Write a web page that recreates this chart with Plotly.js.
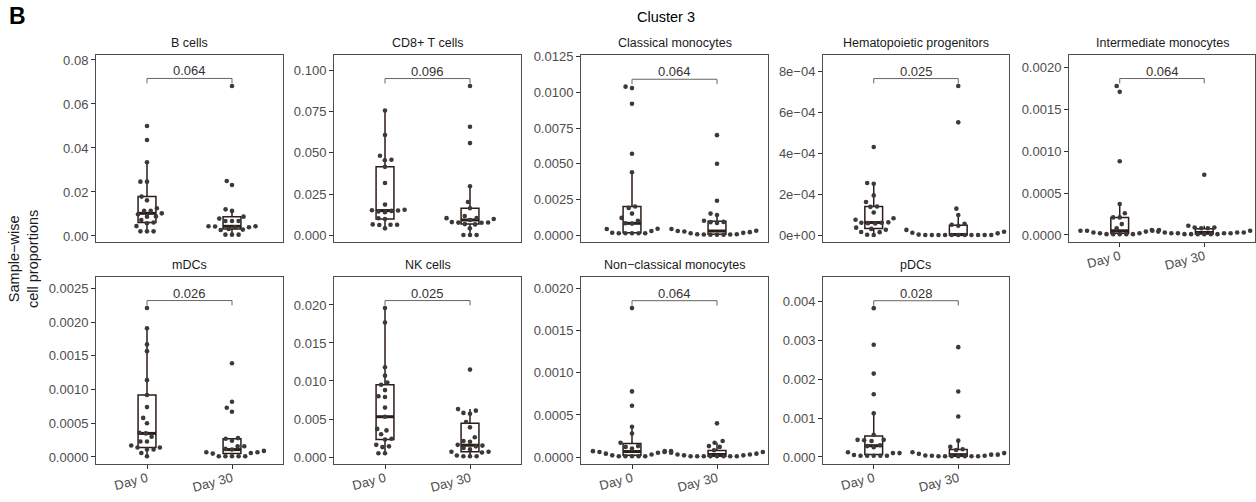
<!DOCTYPE html>
<html><head><meta charset="utf-8">
<script src="https://cdn.plot.ly/plotly-3.0.1.min.js"></script>
<style>html,body{margin:0;padding:0;background:#fff}#chart{width:1256px;height:502px}</style>
</head><body><div id="chart"></div>
<script>
// ---------------- data ----------------
const groups = ["Day 0", "Day 30"];
const panelTitles = ["B cells", "CD8+ T cells", "Classical monocytes", "Hematopoietic progenitors",
  "Intermediate monocytes", "mDCs", "NK cells", "Non\u2212classical monocytes", "pDCs"];
const pValues = ["0.064", "0.096", "0.064", "0.025", "0.064", "0.026", "0.025", "0.064", "0.028"];

const bCellsDay0 = [0.0500, 0.0436, 0.0335, 0.0247, 0.0247, 0.0179, 0.0162, 0.0126, 0.0115, 0.0115, 0.0103, 0.0099, 0.0089, 0.0088, 0.0073, 0.0061, 0.0058, 0.0045, 0.0021, 0.0021, 0.0021];
const bCellsDay30 = [0.0682, 0.0250, 0.0232, 0.0121, 0.0114, 0.0088, 0.0079, 0.0068, 0.0068, 0.0068, 0.0044, 0.0044, 0.0043, 0.0040, 0.0040, 0.0032, 0.0029, 0.0027, 0.0006, 0.0006, 0.0006];
const cd8Day0 = [0.0757, 0.0608, 0.0482, 0.0458, 0.0455, 0.0415, 0.0317, 0.0186, 0.0155, 0.0152, 0.0150, 0.0148, 0.0145, 0.0140, 0.0103, 0.0099, 0.0066, 0.0064, 0.0064, 0.0062, 0.0042];
const cd8Day30 = [0.0905, 0.0658, 0.0559, 0.0297, 0.0202, 0.0164, 0.0117, 0.0105, 0.0104, 0.0099, 0.0093, 0.0080, 0.0078, 0.0077, 0.0076, 0.0068, 0.0066, 0.0042, 0.0002, 0.0002, 0.0002];
const classicalDay0 = [0.0104, 0.0103, 0.0092, 0.0057, 0.0044, 0.0020, 0.0019, 0.0015, 0.0012, 0.0010, 0.00082, 0.0008, 0.00044, 0.00042, 0.00028, 0.00016, 0.00012, 0.00012, 0.00012, 0.00012, 0.00012];
const classicalDay30 = [0.0070, 0.0050, 0.0024, 0.0015, 0.0014, 0.0010, 0.00092, 0.00090, 0.00085, 0.00042, 0.00030, 0.00028, 0.00025, 0.00020, 0.00015, 0.00012, 0.00005, 0.00005, 0.00004, 0.00004, 0.00002, 0.00002, 0.00002];
const hspcDay0 = [4.31e-4, 2.55e-4, 2.51e-4, 1.94e-4, 1.62e-4, 1.40e-4, 1.38e-4, 1.10e-4, 0.82e-4, 0.75e-4, 0.62e-4, 0.60e-4, 0.60e-4, 0.58e-4, 0.56e-4, 0.36e-4, 0.30e-4, 0.26e-4, 0.15e-4, 0.14e-4, 0.01e-4, 0];
const hspcDay30 = [7.30e-4, 5.52e-4, 1.29e-4, 0.98e-4, 0.55e-4, 0.50e-4, 0.45e-4, 0.25e-4, 0.16e-4, 0.11e-4, 0.08e-4, 0.02e-4, 0, 0, 0, 0, 0, 0, 0, 0, 0, 0, 0];
const intermediateDay0 = [0.00178, 0.00171, 0.00088, 0.00037, 0.00026, 0.00021, 0.00021, 0.00013, 0.00008, 0.00006, 0.00005, 0.00005, 0.00005, 0.00004, 0.00003, 0.00002, 0.00002, 0.00001, 0.00001, 0.00001, 0.00001, 0.00001];
const intermediateDay30 = [0.00072, 0.00011, 0.00009, 0.00009, 0.00008, 0.00008, 0.00006, 0.00005, 0.00004, 0.00003, 0.00003, 0.00003, 0.00002, 0.00002, 0.00002, 0.00002, 0.00001, 0.00001, 0.00001, 0.00001, 0.00001, 0.00001];
const mdcDay0 = [0.00221, 0.00191, 0.00167, 0.00157, 0.00114, 0.00092, 0.00074, 0.00058, 0.00050, 0.00036, 0.00035, 0.00030, 0.00023, 0.00023, 0.00017, 0.00014, 0.00014, 0.00011, 0.00011, 0.00006, 0.00001];
const mdcDay30 = [0.00139, 0.00082, 0.00073, 0.00067, 0.00028, 0.00027, 0.00024, 0.00016, 0.00016, 0.00012, 0.00011, 0.00009, 0.00007, 0.00007, 0.00006, 0.00005, 0.00001, 0.00001, 0.00001, 0.00001, 0.00001];
const nkDay0 = [0.0196, 0.0177, 0.0118, 0.0107, 0.0098, 0.0095, 0.0088, 0.0080, 0.0079, 0.0065, 0.0053, 0.0037, 0.0035, 0.0030, 0.0024, 0.0023, 0.0016, 0.0014, 0.0013, 0.0005, 0.0005];
const nkDay30 = [0.0115, 0.0063, 0.0061, 0.0058, 0.0057, 0.0046, 0.0039, 0.0026, 0.0021, 0.0020, 0.0016, 0.0015, 0.0014, 0.0012, 0.0010, 0.0007, 0.0007, 0.0006, 0.0002, 0.0001, 0.0001, 0.0001];
const nonClassicalDay0 = [0.00177, 0.00078, 0.00061, 0.00036, 0.00028, 0.00017, 0.00013, 0.00012, 0.00010, 0.00007, 0.00007, 0.00006, 0.00006, 0.00005, 0.00004, 0.00003, 0.00002, 0.00001, 0.00001, 0.00001, 0.00001, 0.00001];
const nonClassicalDay30 = [0.00040, 0.00019, 0.00017, 0.00013, 0.00012, 0.00008, 0.00007, 0.00006, 0.00005, 0.00004, 0.00003, 0.00003, 0.00002, 0.00002, 0.00001, 0.00001, 0.00001, 0.00001, 0.00001, 0.00001, 0.00001, 0.00001];
const pdcDay0 = [0.00382, 0.00288, 0.00214, 0.00161, 0.00112, 0.00057, 0.00044, 0.00044, 0.00043, 0.00041, 0.00030, 0.00028, 0.00025, 0.00012, 0.00010, 0.00010, 0.00005, 0.00003, 0.00003, 0.00003, 0.00003, 0.00003];
const pdcDay30 = [0.00282, 0.00168, 0.00104, 0.00042, 0.00026, 0.00020, 0.00018, 0.00012, 0.00010, 0.00008, 0.00006, 0.00006, 0.00004, 0.00003, 0.00003, 0.00002, 0.00002, 0.00002, 0.00002, 0.00002, 0.00002, 0.00002];

// tick values and labels
const bCellsTicks = [0, 0.02, 0.04, 0.06, 0.08];
const bCellsTickText = ["0.00", "0.02", "0.04", "0.06", "0.08"];
const cd8Ticks = [0, 0.025, 0.05, 0.075, 0.1];
const cd8TickText = ["0.000", "0.025", "0.050", "0.075", "0.100"];
const classicalTicks = [0, 0.0025, 0.005, 0.0075, 0.01, 0.0125];
const classicalTickText = ["0.0000", "0.0025", "0.0050", "0.0075", "0.0100", "0.0125"];
const hspcTicks = [0, 2e-4, 4e-4, 6e-4, 8e-4];
const hspcTickText = ["0e+00", "2e\u221204", "4e\u221204", "6e\u221204", "8e\u221204"];
const intermediateTicks = [0, 0.0005, 0.001, 0.0015, 0.002];
const intermediateTickText = ["0.0000", "0.0005", "0.0010", "0.0015", "0.0020"];
const mdcTicks = [0, 0.0005, 0.001, 0.0015, 0.002, 0.0025];
const mdcTickText = ["0.0000", "0.0005", "0.0010", "0.0015", "0.0020", "0.0025"];
const nkTicks = [0, 0.005, 0.01, 0.015, 0.02];
const nkTickText = ["0.000", "0.005", "0.010", "0.015", "0.020"];
const nonClassicalTicks = [0, 0.0005, 0.001, 0.0015, 0.002];
const nonClassicalTickText = ["0.0000", "0.0005", "0.0010", "0.0015", "0.0020"];
const pdcTicks = [0, 0.001, 0.002, 0.003, 0.004];
const pdcTickText = ["0.000", "0.001", "0.002", "0.003", "0.004"];

// ---------------- layout constants ----------------
const W = 1256, H = 502;
const FONT = "Liberation Sans, Arial, Helvetica, sans-serif";
const colLeft = [96, 334, 581, 823, 1069];
const colWidth = [187, 187, 187, 186, 186];
const rowTop = [55, 277];
const panelH = 187;
const xRange = [0.4, 2.6];
const yRanges = [
  [-0.00273, 0.08227], [-0.00406, 0.1093], [-0.00049, 0.01262], [-3.43e-5, 8.82e-4], [-8.4e-5, 0.00215],
  [-1.04e-4, 0.00267], [-9.2e-4, 0.02368], [-8.3e-5, 0.00214], [-1.8e-4, 0.00462]
];
const panels = [
  {d0: bCellsDay0, d30: bCellsDay30, ticks: bCellsTicks, text: bCellsTickText},
  {d0: cd8Day0, d30: cd8Day30, ticks: cd8Ticks, text: cd8TickText},
  {d0: classicalDay0, d30: classicalDay30, ticks: classicalTicks, text: classicalTickText},
  {d0: hspcDay0, d30: hspcDay30, ticks: hspcTicks, text: hspcTickText},
  {d0: intermediateDay0, d30: intermediateDay30, ticks: intermediateTicks, text: intermediateTickText},
  {d0: mdcDay0, d30: mdcDay30, ticks: mdcTicks, text: mdcTickText},
  {d0: nkDay0, d30: nkDay30, ticks: nkTicks, text: nkTickText},
  {d0: nonClassicalDay0, d30: nonClassicalDay30, ticks: nonClassicalTicks, text: nonClassicalTickText},
  {d0: pdcDay0, d30: pdcDay30, ticks: pdcTicks, text: pdcTickText}
];
const showXLabels = [false, false, false, false, true, true, true, true, true];

const BOX_COLOR = "#2e1c16";
const PT_COLOR = "#3a3a3a";
const BOX_W = 0.21;
const DOT_D = 6.6; // beeswarm spacing (px)

// ---------------- helpers ----------------
function q7(sorted, p) {
  const h = (sorted.length - 1) * p, lo = Math.floor(h), hi = Math.ceil(h);
  return sorted[lo] + (h - lo) * (sorted[hi] - sorted[lo]);
}
function boxStats(vals) {
  const s = vals.slice().sort((a, b) => a - b);
  const q1 = q7(s, 0.25), med = q7(s, 0.5), q3 = q7(s, 0.75), iqr = q3 - q1;
  const hiF = q3 + 1.5 * iqr, loF = q1 - 1.5 * iqr;
  const upper = Math.max(...s.filter(v => v <= hiF));
  const lower = Math.min(...s.filter(v => v >= loF));
  return {q1, med, q3, upper, lower};
}
function swarm(vals, pxPerY, d) {
  const idx = vals.map((v, i) => i).sort((a, b) => vals[a] - vals[b]);
  const placed = [], out = new Array(vals.length);
  for (const i of idx) {
    const y = vals[i] * pxPerY;
    const cands = [0];
    for (const p of placed) {
      const dy = Math.abs(p.y - y);
      if (dy < d) { const dx = Math.sqrt(d * d - dy * dy); cands.push(p.x + dx, p.x - dx); }
    }
    cands.sort((a, b) => Math.abs(a) - Math.abs(b) || a - b);
    let best = 0;
    for (const c of cands) {
      let ok = true;
      for (const p of placed) {
        const dx = p.x - c, dy = p.y - y;
        if (dx * dx + dy * dy < d * d - 1e-6) { ok = false; break; }
      }
      if (ok) { best = c; break; }
    }
    placed.push({x: best, y});
    out[i] = best;
  }
  return out;
}

// ---------------- build ----------------
const traces = [];
const layout = {
  width: W, height: H, margin: {l: 0, r: 0, t: 0, b: 0},
  paper_bgcolor: "#fff", plot_bgcolor: "#fff", showlegend: false,
  font: {family: FONT, color: "#333"},
  annotations: []
};

panels.forEach((pn, i) => {
  const row = i < 5 ? 0 : 1, col = i < 5 ? i : i - 5;
  const left = colLeft[col], w = colWidth[col], top = rowTop[row];
  const xa = i === 0 ? "x" : "x" + (i + 1), ya = i === 0 ? "y" : "y" + (i + 1);
  const xKey = i === 0 ? "xaxis" : "xaxis" + (i + 1), yKey = i === 0 ? "yaxis" : "yaxis" + (i + 1);
  const yr = yRanges[i];
  const span = yr[1] - yr[0];
  const pxPerX = w / (xRange[1] - xRange[0]);
  const pxPerY = panelH / span;

  layout[xKey] = {
    domain: [left / W, (left + w) / W], range: xRange, anchor: ya,
    tickmode: "array", tickvals: [1, 2], ticktext: groups,
    showticklabels: showXLabels[i], ticks: showXLabels[i] ? "outside" : "", ticklen: 4, tickcolor: "#333", tickwidth: 1,
    tickangle: -15, ticklabelstandoff: -3, tickfont: {size: 13, color: "#4d4d4d", family: FONT},
    showline: true, mirror: true, linecolor: "#4d4d4d", linewidth: 1,
    showgrid: false, zeroline: false, fixedrange: true
  };
  layout[yKey] = {
    domain: [1 - (top + panelH) / H, 1 - top / H], range: yr, anchor: xa,
    tickmode: "array", tickvals: pn.ticks, ticktext: pn.text,
    ticks: "outside", ticklen: 4, tickcolor: "#333", tickwidth: 1,
    tickfont: {size: 13, color: "#4d4d4d", family: FONT},
    showline: true, mirror: true, linecolor: "#4d4d4d", linewidth: 1,
    showgrid: false, zeroline: false, fixedrange: true
  };

  const groupsData = [pn.d0, pn.d30];
  const stats = groupsData.map(boxStats);

  traces.push({
    type: "box", xaxis: xa, yaxis: ya, x: [1, 2],
    q1: stats.map(s => s.q1), median: stats.map(s => s.med), q3: stats.map(s => s.q3),
    lowerfence: stats.map(s => s.lower), upperfence: stats.map(s => s.upper),
    width: BOX_W, boxpoints: false, whiskerwidth: 0,
    line: {color: BOX_COLOR, width: 1.5}, fillcolor: "rgba(255,255,255,0)",
    hoverinfo: "skip", showlegend: false
  });
  // thick median line
  const mx = [], my = [];
  stats.forEach((s, g) => { mx.push(g + 1 - BOX_W / 2, g + 1 + BOX_W / 2, null); my.push(s.med, s.med, null); });
  traces.push({type: "scatter", mode: "lines", xaxis: xa, yaxis: ya, x: mx, y: my,
    line: {color: BOX_COLOR, width: 3}, hoverinfo: "skip", showlegend: false});

  // beeswarm points
  groupsData.forEach((vals, g) => {
    const offs = swarm(vals, pxPerY, DOT_D);
    traces.push({
      type: "scatter", mode: "markers", xaxis: xa, yaxis: ya,
      x: offs.map(o => g + 1 + o / pxPerX), y: vals,
      marker: {color: PT_COLOR, size: 4.6, line: {width: 0}},
      hoverinfo: "skip", showlegend: false
    });
  });

  // significance bracket
  const maxAll = Math.max(...pn.d0, ...pn.d30);
  const brY = maxAll * 1.05;
  const tipY = brY - 0.026 * span;
  traces.push({type: "scatter", mode: "lines", xaxis: xa, yaxis: ya,
    x: [1, 1, 2, 2], y: [tipY, brY, brY, tipY],
    line: {color: "#666", width: 1}, hoverinfo: "skip", showlegend: false});
  layout.annotations.push({xref: xa, yref: ya, x: 1.5, y: brY, text: pValues[i], showarrow: false,
    yanchor: "bottom", xanchor: "center", yshift: -2, font: {size: 13, color: "#333", family: FONT}});

  // strip title
  layout.annotations.push({xref: "paper", yref: "paper", x: (left + w / 2) / W, y: 1 - (top - 12) / H,
    text: panelTitles[i], showarrow: false, xanchor: "center", yanchor: "middle",
    font: {size: 12.5, color: "#1a1a1a", family: FONT}});
});

// figure-level labels
layout.annotations.push({xref: "paper", yref: "paper", x: 7 / W, y: 1 - 16 / H, text: "<b>B</b>",
  showarrow: false, xanchor: "left", yanchor: "middle", font: {size: 23, color: "#000", family: FONT}});
layout.annotations.push({xref: "paper", yref: "paper", x: 666 / W, y: 1 - 17 / H, text: "Cluster 3",
  showarrow: false, xanchor: "center", yanchor: "middle", font: {size: 14.5, color: "#000", family: FONT}});
layout.annotations.push({xref: "paper", yref: "paper", x: 23 / W, y: 1 - 259 / H,
  text: "Sample\u2212wise<br>cell proportions", textangle: -90,
  showarrow: false, xanchor: "center", yanchor: "middle", font: {size: 14.5, color: "#1a1a1a", family: FONT}});

Plotly.newPlot("chart", traces, layout, {staticPlot: true, displayModeBar: false});
</script>
</body></html>
